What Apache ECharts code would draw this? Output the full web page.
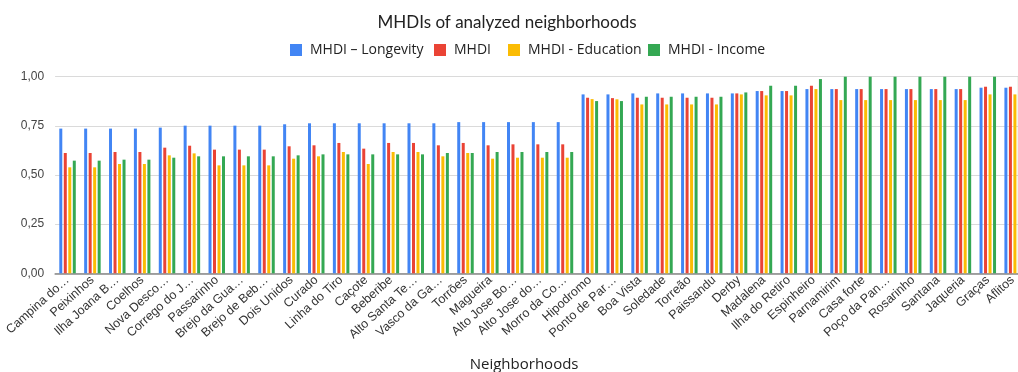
<!DOCTYPE html>
<html>
<head>
<meta charset="utf-8">
<script src="https://cdn.jsdelivr.net/npm/echarts@6/dist/echarts.min.js"></script>
<style>
  html, body { margin: 0; padding: 0; background: #fff; }
  #chart { width: 1018px; height: 372px; }
</style>
</head>
<body>
<div id="chart"></div>
<script>
// Neighborhood names as they appear on the category axis
const neighborhoods = [
  'Campina do…', 'Peixinhos', 'Ilha Joana B…', 'Coelhos', 'Nova Desco…',
  'Corrego do J…', 'Passarinho', 'Brejo da Gua…', 'Brejo de Beb…', 'Dois Unidos',
  'Curado', 'Linha do Tiro', 'Caçote', 'Beberibe', 'Alto Santa Te…',
  'Vasco da Ga…', 'Torrões', 'Magueira', 'Alto Jose Bo…', 'Alto Jose do…',
  'Morro da Co…', 'Hipodromo', 'Ponto de Par…', 'Boa Vista', 'Soledade',
  'Torreão', 'Paissandu', 'Derby', 'Madalena', 'Ilha do Retiro',
  'Espinheiro', 'Parnamirim', 'Casa forte', 'Poço da Pan…', 'Rosarinho',
  'Santana', 'Jaqueria', 'Graças', 'Aflitos'
];

const mhdiLongevity = [
  0.736, 0.736, 0.736, 0.736, 0.741, 0.751, 0.751, 0.751, 0.751, 0.758,
  0.763, 0.763, 0.763, 0.763, 0.763, 0.763, 0.769, 0.769, 0.769, 0.769,
  0.769, 0.910, 0.910, 0.915, 0.915, 0.915, 0.915, 0.915, 0.927, 0.927,
  0.937, 0.937, 0.937, 0.937, 0.937, 0.937, 0.937, 0.944, 0.944
];

const mhdi = [
  0.612, 0.612, 0.617, 0.617, 0.639, 0.649, 0.629, 0.629, 0.629, 0.646,
  0.651, 0.663, 0.634, 0.663, 0.663, 0.651, 0.663, 0.651, 0.656, 0.656,
  0.656, 0.893, 0.891, 0.893, 0.893, 0.893, 0.893, 0.915, 0.927, 0.927,
  0.954, 0.937, 0.937, 0.937, 0.937, 0.937, 0.937, 0.949, 0.949
];

const mhdiEducation = [
  0.539, 0.539, 0.556, 0.556, 0.600, 0.610, 0.549, 0.549, 0.549, 0.583,
  0.595, 0.617, 0.556, 0.617, 0.617, 0.595, 0.612, 0.583, 0.588, 0.588,
  0.588, 0.886, 0.885, 0.859, 0.859, 0.859, 0.859, 0.910, 0.905, 0.905,
  0.937, 0.881, 0.881, 0.881, 0.881, 0.881, 0.881, 0.910, 0.910
];

const mhdiIncome = [
  0.573, 0.573, 0.578, 0.578, 0.588, 0.595, 0.595, 0.595, 0.595, 0.600,
  0.605, 0.605, 0.605, 0.605, 0.605, 0.612, 0.612, 0.617, 0.617, 0.617,
  0.617, 0.876, 0.876, 0.898, 0.898, 0.898, 0.898, 0.920, 0.954, 0.954,
  0.988, 1.000, 1.000, 1.000, 1.000, 1.000, 1.000, 1.000, 1.000
];

const yTicks = [0, 0.25, 0.5, 0.75, 1];

const seriesDefs = [
  { name: 'MHDI – Longevity', data: mhdiLongevity, color: '#4285F4' },
  { name: 'MHDI', data: mhdi, color: '#EA4335' },
  { name: 'MHDI - Education', data: mhdiEducation, color: '#FBBC04' },
  { name: 'MHDI - Income', data: mhdiIncome, color: '#34A853' }
];

// Each legend entry is placed on its own so the spacing between entries can vary
const legendLefts = [290, 434, 508, 648];

const chart = echarts.init(document.getElementById('chart'), null, { renderer: 'canvas' });

chart.setOption({
  animation: false,
  backgroundColor: '#ffffff',
  title: {
    text: 'MHDIs of analyzed neighborhoods',
    left: 502,
    textAlign: 'center',
    top: 9,
    textStyle: { fontFamily: 'Lato', fontSize: 17, fontWeight: 'normal', color: '#222' }
  },
  legend: seriesDefs.map((s, i) => ({
    data: [s.name],
    left: legendLefts[i],
    top: 43,
    padding: 0,
    itemWidth: 12,
    itemHeight: 12,
    itemGap: 0,
    icon: 'rect',
    textStyle: { fontFamily: 'Open Sans', fontSize: 14, color: '#222', padding: [0, 0, 0, 3] }
  })),
  grid: { left: 55.1, width: 970, top: 76.7, height: 196.6, outerBoundsMode: 'none', containLabel: false },
  xAxis: {
    type: 'category',
    data: neighborhoods,
    boundaryGap: true,
    name: 'Neighborhoods',
    nameLocation: 'middle',
    nameGap: 84,
    nameTextStyle: { fontFamily: 'Open Sans', fontSize: 15, color: '#222', padding: [0, 32, 0, 0] },
    axisLine: { show: true, lineStyle: { color: '#888', width: 1.5 } },
    axisTick: { show: false },
    axisLabel: {
      interval: 0,
      rotate: 42,
      margin: 5,
      fontFamily: 'Liberation Sans',
      fontSize: 12.5,
      color: '#333'
    }
  },
  yAxis: {
    type: 'value',
    min: 0,
    max: 1,
    interval: 0.25,
    axisLine: { show: false },
    axisTick: { show: false },
    splitLine: { lineStyle: { color: '#dadada', width: 1.2 } },
    axisLabel: {
      margin: 11,
      fontFamily: 'Liberation Sans',
      fontSize: 12,
      color: '#444',
      formatter: v => yTicks.includes(v) ? v.toFixed(2).replace('.', ',') : ''
    }
  },
  series: seriesDefs.map(s => ({
    name: s.name,
    type: 'bar',
    data: s.data,
    barWidth: 3,
    barGap: '50%',
    itemStyle: { color: s.color }
  }))
});
</script>
</body>
</html>
